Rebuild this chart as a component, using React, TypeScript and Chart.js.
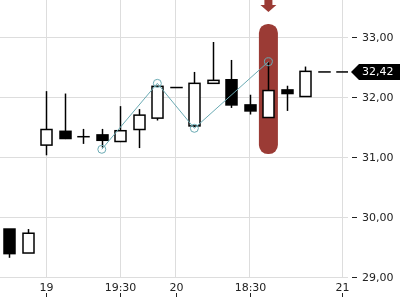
import React, { useEffect, useRef } from "react";
import { Chart, registerables } from "chart.js";

Chart.register(...registerables);

// Candle data (index positions on x)
const opens = [29.8, 29.4, 31.2, 31.43, 31.34, 31.37, 31.26, 31.46, 31.65, 32.16, 31.52, 32.23, 32.29, 31.87, 31.66, 32.12, 32.01, 32.42, 32.42];
const highs = [29.8, 29.8, 32.1, 32.06, 31.47, 31.47, 31.85, 31.8, 32.19, 32.16, 32.42, 32.92, 32.62, 32.04, 32.58, 32.19, 32.51, 32.42, 32.42];
const lows = [29.32, 29.4, 31.03, 31.3, 31.22, 31.16, 31.25, 31.15, 31.61, 32.16, 31.5, 32.23, 31.82, 31.71, 31.66, 31.77, 32.01, 32.42, 32.42];
const closes = [29.39, 29.73, 31.46, 31.31, 31.34, 31.28, 31.44, 31.7, 32.18, 32.16, 32.23, 32.28, 31.87, 31.77, 32.11, 32.06, 32.43, 32.42, 32.42];

// Pattern line points
const lineX = [5, 8, 10, 14];
const lineY = [31.13, 32.23, 31.48, 32.59];

// Highlight marker
const markerIndex = 14;
const markerRange = [31.05, 33.22];

// Axis ticks
const xTickPos = [2, 6, 9, 13, 18];
const xTickLabels = ["19", "19:30", "20", "18:30", "21"];
const yTickVals = [29, 30, 31, 32, 33];
const yTickLabels = ["29,00", "30,00", "31,00", "32,00", "33,00"];
const lastPrice = 32.42;
const lastPriceLabel = "32,42";

const TEAL = "#6aaab3";
const RED = "#9b3b35";
const FONT = '11px "DejaVu Sans"';

const overlayPlugin = {
  id: "overlay",
  beforeDatasetsDraw(chart: any) {
    const ctx = chart.ctx;
    const xs = chart.scales.x;
    const ys = chart.scales.y;
    const area = chart.chartArea;
    ctx.save();
    ctx.beginPath();
    ctx.rect(area.left, area.top, area.right - area.left, area.bottom - area.top);
    ctx.clip();

    // Highlight pill
    const mx = xs.getPixelForValue(markerIndex);
    const pw = 19;
    const top = ys.getPixelForValue(markerRange[1]);
    const bot = ys.getPixelForValue(markerRange[0]);
    ctx.fillStyle = RED;
    ctx.beginPath();
    (ctx as any).roundRect(mx - pw / 2, top, pw, bot - top, 9);
    ctx.fill();
    // arrow
    ctx.beginPath();
    ctx.moveTo(mx - 4, area.top);
    ctx.lineTo(mx + 4, area.top);
    ctx.lineTo(mx + 4, area.top + 5);
    ctx.lineTo(mx + 8, area.top + 5);
    ctx.lineTo(mx, area.top + 12);
    ctx.lineTo(mx - 8, area.top + 5);
    ctx.lineTo(mx - 4, area.top + 5);
    ctx.closePath();
    ctx.fill();

    // Candles
    const bw = 11;
    ctx.strokeStyle = "#000";
    for (let i = 0; i < opens.length; i++) {
      const x = Math.round(xs.getPixelForValue(i)) + 0.5;
      const o = ys.getPixelForValue(opens[i]);
      const c = ys.getPixelForValue(closes[i]);
      const h = ys.getPixelForValue(highs[i]);
      const l = ys.getPixelForValue(lows[i]);
      ctx.lineWidth = 1.5;
      ctx.beginPath();
      ctx.moveTo(x, h);
      ctx.lineTo(x, l);
      ctx.stroke();
      const t = Math.min(o, c);
      const b = Math.max(o, c);
      if (Math.abs(b - t) < 1) {
        ctx.beginPath();
        ctx.moveTo(x - bw / 2 - 0.75, t);
        ctx.lineTo(x + bw / 2 + 0.75, t);
        ctx.stroke();
      } else {
        ctx.fillStyle = closes[i] > opens[i] ? "#fff" : "#000";
        ctx.fillRect(x - bw / 2, t, bw, b - t);
        ctx.strokeRect(x - bw / 2, t, bw, b - t);
      }
    }
    ctx.restore();
  },
  afterDraw(chart: any) {
    const ctx = chart.ctx;
    const xs = chart.scales.x;
    const ys = chart.scales.y;
    const area = chart.chartArea;
    ctx.save();
    ctx.font = FONT;
    ctx.fillStyle = "#222";
    ctx.strokeStyle = "#222";
    ctx.lineWidth = 1;
    // y labels
    ctx.textAlign = "left";
    ctx.textBaseline = "middle";
    yTickVals.forEach((v, k) => {
      const y = Math.round(ys.getPixelForValue(v)) + 0.5;
      ctx.beginPath();
      ctx.moveTo(area.right + 4, y);
      ctx.lineTo(area.right + 9, y);
      ctx.stroke();
      ctx.fillText(yTickLabels[k], area.right + 14, y + 0.5);
    });
    // x labels
    ctx.textAlign = "center";
    ctx.textBaseline = "alphabetic";
    xTickPos.forEach((v, k) => {
      const x = Math.round(xs.getPixelForValue(v)) + 0.5;
      ctx.fillText(xTickLabels[k], x, area.bottom + 14);
      ctx.beginPath();
      ctx.moveTo(x, area.bottom + 16);
      ctx.lineTo(x, area.bottom + 20);
      ctx.stroke();
    });
    // last price label
    const py = Math.round(ys.getPixelForValue(lastPrice));
    const lx = area.right + 3;
    ctx.fillStyle = "#000";
    ctx.beginPath();
    ctx.moveTo(lx, py);
    ctx.lineTo(lx + 8, py - 8);
    ctx.lineTo(400, py - 8);
    ctx.lineTo(400, py + 8);
    ctx.lineTo(lx + 8, py + 8);
    ctx.closePath();
    ctx.fill();
    ctx.fillStyle = "#fff";
    ctx.textAlign = "left";
    ctx.textBaseline = "middle";
    ctx.fillText(lastPriceLabel, area.right + 14, py + 0.5);
    ctx.restore();
  },
};

export default function App() {
  const ref = useRef<HTMLCanvasElement>(null);
  useEffect(() => {
    if (!ref.current) return;
    const chart = new Chart(ref.current, {
      type: "line",
      data: {
        datasets: [
          {
            data: lineX.map((x, i) => ({ x, y: lineY[i] })),
            borderColor: TEAL,
            borderWidth: 1,
            pointRadius: 4,
            pointBackgroundColor: "rgba(0,0,0,0)",
            pointBorderColor: TEAL,
            pointBorderWidth: 1,
            tension: 0,
            clip: false,
          },
        ],
      },
      options: {
        responsive: false,
        animation: false,
        layout: { padding: 0, autoPadding: false },
        plugins: { legend: { display: false }, tooltip: { enabled: false } },
        scales: {
          x: {
            type: "linear",
            min: -0.5,
            max: 18.3,
            afterBuildTicks: (axis: any) => {
              axis.ticks = xTickPos.map((v) => ({ value: v }));
            },
            afterFit: (s: any) => {
              s.height = 23;
            },
            ticks: { display: false },
            grid: { color: "#dddddd", drawTicks: false },
            border: { display: false },
          },
          y: {
            type: "linear",
            position: "right",
            min: 29,
            max: 33.62,
            afterBuildTicks: (axis: any) => {
              axis.ticks = yTickVals.map((v) => ({ value: v }));
            },
            afterFit: (s: any) => {
              s.width = 52;
            },
            ticks: { display: false },
            grid: { color: "#dddddd", drawTicks: false },
            border: { display: false },
          },
        },
      },
      plugins: [overlayPlugin],
    } as any);
    return () => chart.destroy();
  }, []);
  return (
    <div style={{ position: "absolute", left: 0, top: 0, width: 400, height: 300, background: "#fff" }}>
      <canvas ref={ref} width={400} height={300} style={{ display: "block" }} />
    </div>
  );
}
